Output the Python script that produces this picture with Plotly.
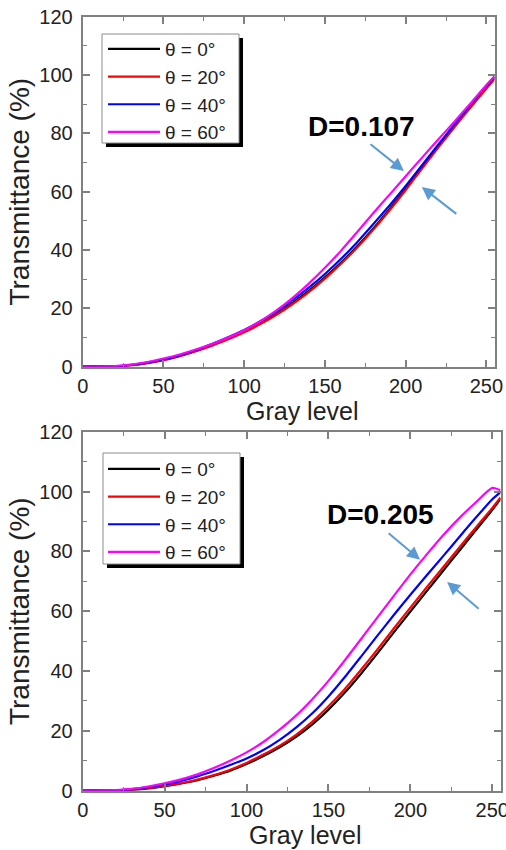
import plotly.graph_objects as go

# ---------------- data ----------------
gray = [0, 10, 20, 30, 40, 50, 60, 70, 80, 90, 100, 110, 120, 130, 140, 150,
        160, 170, 180, 190, 200, 210, 220, 230, 240, 250, 255]

series_names = ["θ = 0°", "θ = 20°", "θ = 40°", "θ = 60°"]
series_colors = ["#000000", "#ff0000", "#0000ff", "#ff00ff"]

# top panel (D = 0.107)
top_t0 = [0, 0, 0.1, 0.5, 1.3, 2.3, 3.7, 5.4, 7.4, 9.6, 12.1, 14.9, 18.2, 21.9, 26.0, 30.6,
          35.7, 41.3, 47.4, 54.0, 61.0, 68.2, 75.4, 82.4, 89.2, 95.8, 99.0]
top_t20 = [0, 0, 0.1, 0.5, 1.2, 2.2, 3.6, 5.3, 7.2, 9.4, 11.8, 14.6, 17.8, 21.5, 25.6, 30.2,
           35.3, 40.9, 47.0, 53.6, 60.6, 67.8, 75.0, 82.0, 88.8, 95.4, 98.6]
top_t40 = [0, 0, 0.1, 0.6, 1.4, 2.5, 3.9, 5.7, 7.8, 10.1, 12.6, 15.6, 18.9, 22.8, 27.1, 31.8,
           37.0, 42.7, 48.9, 55.3, 62.0, 69.0, 76.0, 83.0, 89.8, 96.4, 99.4]
top_t60 = [0, 0, 0.2, 0.7, 1.6, 2.8, 4.2, 5.9, 7.8, 10.0, 12.5, 15.6, 19.3, 23.6, 28.5, 33.9,
           39.8, 46.2, 52.7, 59.0, 65.3, 71.6, 77.8, 83.9, 90.2, 96.6, 99.6]

# bottom panel (D = 0.205)
bot_t0 = [0, 0, 0.1, 0.3, 0.8, 1.5, 2.4, 3.5, 5.0, 6.7, 8.9, 11.5, 14.4, 17.9, 22.1, 27.1,
          32.8, 39.2, 46.0, 53.0, 59.9, 66.7, 73.5, 80.3, 87.1, 93.9, 97.6]
bot_t20 = [0, 0, 0.1, 0.4, 0.9, 1.6, 2.5, 3.7, 5.2, 7.0, 9.3, 12.0, 15.0, 18.6, 23.0, 28.2,
           34.0, 40.5, 47.3, 54.3, 61.2, 68.0, 74.7, 81.4, 88.0, 94.5, 98.0]
bot_t40 = [0, 0, 0.1, 0.5, 1.2, 2.1, 3.3, 4.8, 6.6, 8.6, 10.8, 13.5, 16.9, 21.0, 25.8, 31.5,
           38.0, 44.9, 51.9, 58.8, 65.5, 72.0, 78.4, 84.9, 91.3, 97.4, 99.8]
bot_t60 = [0, 0, 0.2, 0.6, 1.4, 2.5, 3.8, 5.5, 7.6, 10.0, 12.8, 16.2, 20.3, 25.0, 30.5, 36.7,
           43.6, 50.8, 58.0, 65.2, 72.3, 79.0, 85.4, 91.2, 96.4, 101.2, 100.4]

top_series = [top_t0, top_t20, top_t40, top_t60]
bot_series = [bot_t0, bot_t20, bot_t40, bot_t60]

x_ticks = [0, 50, 100, 150, 200, 250]
y_ticks = [0, 20, 40, 60, 80, 100, 120]
top_label = "D=0.107"
bot_label = "D=0.205"

# ---------------- figure ----------------
W, H = 506, 850
FONT = "Arial, Liberation Sans, Helvetica, sans-serif"
AXC = "#808080"
TXT = "#222222"

fig = go.Figure()

for name, col, ys in zip(series_names, series_colors, top_series):
    fig.add_trace(go.Scatter(x=gray, y=ys, mode="lines", name=name,
                             line=dict(color=col, width=2.2, shape="spline", smoothing=0.6),
                             xaxis="x", yaxis="y", legend="legend"))
for name, col, ys in zip(series_names, series_colors, bot_series):
    fig.add_trace(go.Scatter(x=gray, y=ys, mode="lines", name=name,
                             line=dict(color=col, width=2.2, shape="spline", smoothing=0.6),
                             xaxis="x2", yaxis="y2", legend="legend2"))


def px_x(p):
    return p / W


def px_y(p):
    return 1 - p / H


def xaxis(domain, anchor):
    return dict(domain=domain, anchor=anchor, range=[0, 255], tickvals=x_ticks,
                automargin=False, ticklabeloverflow="allow",
                showline=True, linecolor=AXC, linewidth=2, mirror="allticks",
                ticks="inside", ticklen=7, tickwidth=1.5, tickcolor=AXC,
                minor=dict(ticks="inside", ticklen=4, tickwidth=1.2, tickcolor=AXC, dtick=25),
                showgrid=False, zeroline=False, ticklabelstandoff=0,
                tickfont=dict(size=20, color=TXT, family=FONT))


def yaxis(domain, anchor):
    return dict(domain=domain, anchor=anchor, range=[0, 120], tickvals=y_ticks,
                automargin=False, ticklabeloverflow="allow",
                showline=True, linecolor=AXC, linewidth=2, mirror="allticks",
                ticks="inside", ticklen=7, tickwidth=1.5, tickcolor=AXC,
                minor=dict(ticks="inside", ticklen=4, tickwidth=1.2, tickcolor=AXC, dtick=10),
                showgrid=False, zeroline=False, ticklabelstandoff=4,
                tickfont=dict(size=20, color=TXT, family=FONT),
                title=dict(text="Transmittance (%)", standoff=2,
                           font=dict(size=28, color=TXT, family=FONT)))


def legend_at(left, top):
    return dict(x=px_x(left), y=px_y(top), xanchor="left", yanchor="top",
                bgcolor="rgba(0,0,0,0)", borderwidth=0, itemwidth=52,
                font=dict(size=19, color=TXT, family=FONT), tracegroupgap=0)


fig.update_layout(
    width=W, height=H,
    margin=dict(l=0, r=0, t=0, b=0, autoexpand=False),
    paper_bgcolor="white", plot_bgcolor="white",
    xaxis=xaxis([px_x(82.7), px_x(494.5)], "y"),
    yaxis=yaxis([px_y(366.7), px_y(16.7)], "x"),
    xaxis2=xaxis([px_x(82.7), px_x(500.5)], "y2"),
    yaxis2=yaxis([px_y(790.7), px_y(431.7)], "x2"),
    legend=legend_at(103, 30),
    legend2=legend_at(103, 450),
    showlegend=True,
)

# legend frames with drop shadows (left, top, right, bottom in px)
for (l, t, r, b) in [(102, 34, 239, 143), (103, 453, 240, 564)]:
    fig.add_shape(type="rect", xref="paper", yref="paper",
                  x0=px_x(l + 4), x1=px_x(r + 4), y0=px_y(b + 4), y1=px_y(t + 4),
                  fillcolor="black", line=dict(width=0), layer="above")
    fig.add_shape(type="rect", xref="paper", yref="paper",
                  x0=px_x(l), x1=px_x(r), y0=px_y(b), y1=px_y(t),
                  fillcolor="white", line=dict(color="#8c8c8c", width=1), layer="above")

ARROW = "#5b9bd5"
annots = []
# x-axis titles
annots.append(dict(xref="paper", yref="paper", x=px_x(302), y=px_y(396), text="Gray level",
                   showarrow=False, xanchor="center", yanchor="top", borderpad=0,
                   font=dict(size=25, color=TXT, family=FONT)))
annots.append(dict(xref="paper", yref="paper", x=px_x(305), y=px_y(850), text="Gray level",
                   showarrow=False, xanchor="center", yanchor="bottom", borderpad=0,
                   font=dict(size=25, color=TXT, family=FONT)))
# D labels
annots.append(dict(xref="x", yref="y", x=138.5, y=82.5, text="<b>" + top_label + "</b>",
                   showarrow=False, xanchor="left", yanchor="middle",
                   font=dict(size=28, color="black", family=FONT)))
annots.append(dict(xref="x2", yref="y2", x=148, y=92.2, text="<b>" + bot_label + "</b>",
                   showarrow=False, xanchor="left", yanchor="middle",
                   font=dict(size=28, color="black", family=FONT)))
# arrows (tail -> head)
arrow_specs = [
    ("x", "y", 177.3, 76.7, 198.9, 67.1),
    ("x", "y", 232.3, 52.0, 210.0, 61.6),
    ("x2", "y2", 185.8, 86.5, 205.9, 77.2),
    ("x2", "y2", 242.6, 60.4, 222.4, 69.8),
]
for xr, yr, tx, ty, hx, hy in arrow_specs:
    annots.append(dict(xref=xr, yref=yr, axref=xr, ayref=yr, x=hx, y=hy, ax=tx, ay=ty,
                       text="", showarrow=True, arrowhead=2, arrowsize=1.3, arrowwidth=2,
                       arrowcolor=ARROW, standoff=0))
fig.update_layout(annotations=annots)

fig.write_html("out.html")
